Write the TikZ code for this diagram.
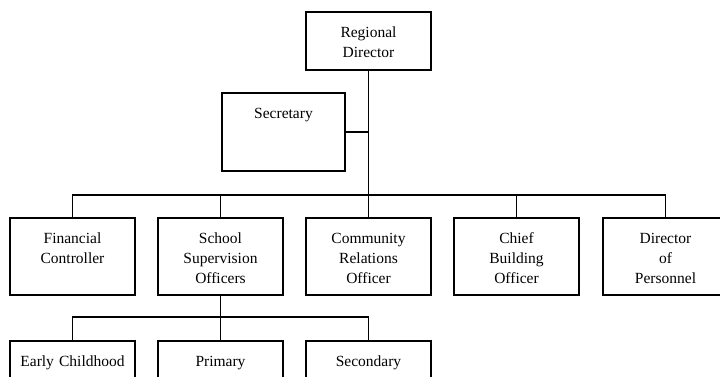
\documentclass[tikz,border=0pt]{standalone}
\usepackage{fontspec}
\setmainfont{Liberation Serif}
\usetikzlibrary{positioning}

\begin{document}
\begin{tikzpicture}[x=1pt,y=-1pt,node distance=23pt,
		post/.style={draw,line width=1.2pt,text width=125pt,align=center,inner sep=0pt,outer sep=0pt,
			text height=25pt,text depth=52pt,font=\fontsize{15.5}{20}\selectfont},
		head node/.style={post,text depth=33pt}]
	\clip (0,0) rectangle (720,376);
	% second level
	\node[post,anchor=north west] (fin) at (10,218) {Financial\\Controller};
	\node[post,right=of fin] (ssup) {School\\Supervision\\Officers};
	\node[post,right=of ssup] (comm) {Community\\Relations\\Officer};
	\node[post,right=of comm] (chief) {Chief\\Building\\Officer};
	\node[post,right=24pt of chief] (pers) {Director\\of\\Personnel};
	% top
	\node[head node,above=148pt of comm] (rd) {Regional\\Director};
	\node[post,text width=123pt,text depth=53pt,anchor=north west] (sec) at (222,93) {Secretary};
	% under school supervision
	\node[post,below=46pt of fin] (early) {Early Childhood};
	\node[post,right=of early] (prim) {Primary};
	\node[post,right=of prim] (secd) {Secondary};

	\coordinate (busy) at (0,195);
	\coordinate (subbusy) at (0,317);
	\coordinate (bus) at (rd.south |- busy);
	\coordinate (subbus) at (ssup.south |- subbusy);

	\begin{scope}[line width=1.2pt]
		\draw (rd.south) -- (bus);
		\draw (sec.east) -- (sec.east -| bus);
		\draw (fin.north) |- (bus) -| (pers.north);
		\foreach \n in {ssup,comm,chief}
			\draw (\n.north) -- (\n.north |- bus);
		\draw (ssup.south) -- (subbus);
		\draw (early.north) |- (subbus) -| (secd.north);
		\draw (prim.north) -- (prim.north |- subbus);
	\end{scope}
\end{tikzpicture}
\end{document}
